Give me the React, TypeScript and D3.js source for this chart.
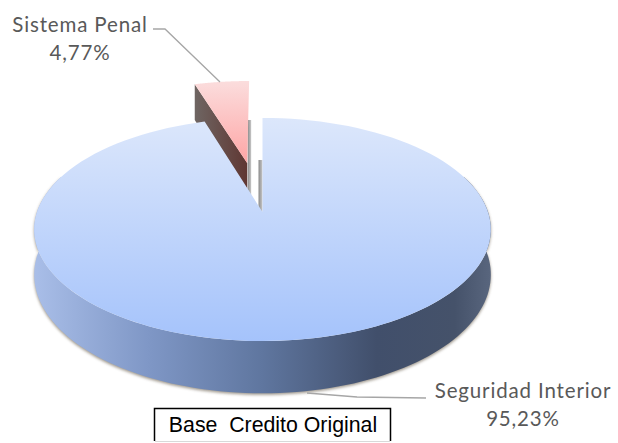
import React from "react";
import * as d3 from "d3";

const categories = ["Seguridad Interior", "Sistema Penal"];
const shares = [95.23, 4.77];
const shareLabels = ["95,23%", "4,77%"];
const boxTitle = "Base  Credito Original";

const W = 618, H = 443;
// perspective disc -> screen
const cx = 262.5, cy = 212, A = 225.5, B = 108.8, K = 0.157, DEPTH = 44;
const proj = (u: number, v: number, z = 0): [number, number] => {
  const d = 1 - K * v;
  return [cx + (A * u) / d, cy + (B * v + z * DEPTH) / d];
};

const pie = d3.pie<number>().sort(null).startAngle(0).endAngle(2 * Math.PI);
const arcs = pie(shares);
const bigArc = arcs[0];
const redArc = arcs[1];
const redMid = (redArc.startAngle + redArc.endAngle) / 2;
const EXPLODE = 0.49;
const redU0 = Math.sin(redMid) * EXPLODE;
const redV0 = -Math.cos(redMid) * EXPLODE;

// angle measured clockwise from back (top of screen)
const ring = (a0: number, a1: number, u0: number, v0: number, z = 0) =>
  d3.range(0, 121).map((i) => {
    const a = a0 + ((a1 - a0) * i) / 120;
    return proj(u0 + Math.sin(a), v0 - Math.cos(a), z);
  });
const line = d3.line();
const closed = (pts: [number, number][]) => line(pts) + "Z";

const bigTop = closed([proj(0, 0), ...ring(bigArc.startAngle, bigArc.endAngle, 0, 0)]);
const wallStart = (70 * Math.PI) / 180;
const wallEnd = (290 * Math.PI) / 180;
const bigWall = closed([
  ...ring(wallStart, wallEnd, 0, 0),
  ...ring(wallStart, wallEnd, 0, 0, 1).reverse(),
]);
const redApex = proj(redU0, redV0);
const redOuter = ring(redArc.startAngle, redArc.endAngle, redU0, redV0);
const redTop = closed([redApex, ...redOuter]);
const redWall = closed([
  redApex,
  redOuter[0],
  proj(redU0 + Math.sin(redArc.startAngle), redV0 - Math.cos(redArc.startAngle), 1),
  proj(redU0, redV0, 1),
]);

const bigApex = proj(0, 0);
const stripA = closed([
  [redApex[0] + 0.5, redApex[1] - 43],
  [redApex[0] + 4, redApex[1] - 43],
  [redApex[0] + 4, redApex[1] + 32],
  [redApex[0] + 0.5, redApex[1] + 32],
]);
const stripB = closed([
  [bigApex[0] - 4, bigApex[1] - 52],
  [bigApex[0], bigApex[1] - 52],
  [bigApex[0], bigApex[1] + 2],
  [bigApex[0] - 4, bigApex[1] + 2],
]);

const leaderTop = (line([[153, 29], [165, 29], [220, 82]]) as string);
const leaderBottom = (line([[307, 393], [357, 397], [426, 398]]) as string);

export default function App() {
  return (
    <svg
      width={W}
      height={H}
      viewBox={`0 0 ${W} ${H}`}
      style={{ position: "absolute", left: 0, top: 0, background: "#fff" }}
    >
      <defs>
        <linearGradient id="blueTop" gradientUnits="userSpaceOnUse" x1="0" x2="0" y1="118" y2="341">
          <stop offset="0" stopColor="#dce7fb" />
          <stop offset="1" stopColor="#a5c3fb" />
        </linearGradient>
        <linearGradient id="redTop" gradientUnits="userSpaceOnUse" x1="0" x2="0" y1="81" y2="163">
          <stop offset="0" stopColor="#fbdddd" />
          <stop offset="1" stopColor="#fea5a5" />
        </linearGradient>
        <linearGradient id="blueWall" gradientUnits="userSpaceOnUse" x1="34" x2="491" y1="0" y2="0">
          <stop offset="0" stopColor="#a9bee8" />
          <stop offset="0.25" stopColor="#7f97c6" />
          <stop offset="0.5" stopColor="#5f769f" />
          <stop offset="0.75" stopColor="#414f6b" />
          <stop offset="0.92" stopColor="#45526a" />
          <stop offset="1" stopColor="#59667e" />
        </linearGradient>
        <linearGradient id="redWall" gradientUnits="userSpaceOnUse" x1="193" x2="248" y1="0" y2="0">
          <stop offset="0" stopColor="#6f6764" />
          <stop offset="1" stopColor="#5f3632" />
        </linearGradient>
        <linearGradient id="strip" x1="0" x2="1" y1="0" y2="0">
          <stop offset="0" stopColor="#8a8a8a" />
          <stop offset="1" stopColor="#c8c8c8" />
        </linearGradient>
        <filter id="soft" x="-5%" y="-5%" width="110%" height="115%">
          <feGaussianBlur stdDeviation="1.4" />
        </filter>
      </defs>

      <path d={bigWall} fill="#7d7365" opacity={0.75} filter="url(#soft)" transform="translate(0,1.5)" />
      <path d={stripA} fill="url(#strip)" />
      <path d={stripB} fill="url(#strip)" />
      <path d={redWall} fill="url(#redWall)" />
      <path d={redTop} fill="url(#redTop)" />
      <path d={bigWall} fill="url(#blueWall)" />
      <path d={bigTop} fill="url(#blueTop)" />

      <path d={leaderTop} fill="none" stroke="#a6a6a6" strokeWidth={1.3} />
      <path d={leaderBottom} fill="none" stroke="#a6a6a6" strokeWidth={1.3} />

      <g fontFamily="Lato, 'Open Sans', sans-serif" fontSize={20.5} letterSpacing={0.85} fill="#595959" textAnchor="middle">
        <text x={80} y={32}>{categories[1]}</text>
        <text x={80} y={60}>{shareLabels[1]}</text>
        <text x={523} y={398}>{categories[0]}</text>
        <text x={523} y={426}>{shareLabels[0]}</text>
      </g>

      <path d="M154.5,441V408.5H390.5V441" fill="none" stroke="#000" strokeWidth={1.5} />
      <path d="M155,441.5H390" fill="none" stroke="#d9d9d9" strokeWidth={1} />
      <text
        x={273}
        y={432}
        textAnchor="middle"
        fontFamily="'Liberation Sans', Arial, sans-serif"
        fontSize={21.3}
        fill="#000"
        style={{ whiteSpace: "pre" }}
      >
        {boxTitle}
      </text>
    </svg>
  );
}
